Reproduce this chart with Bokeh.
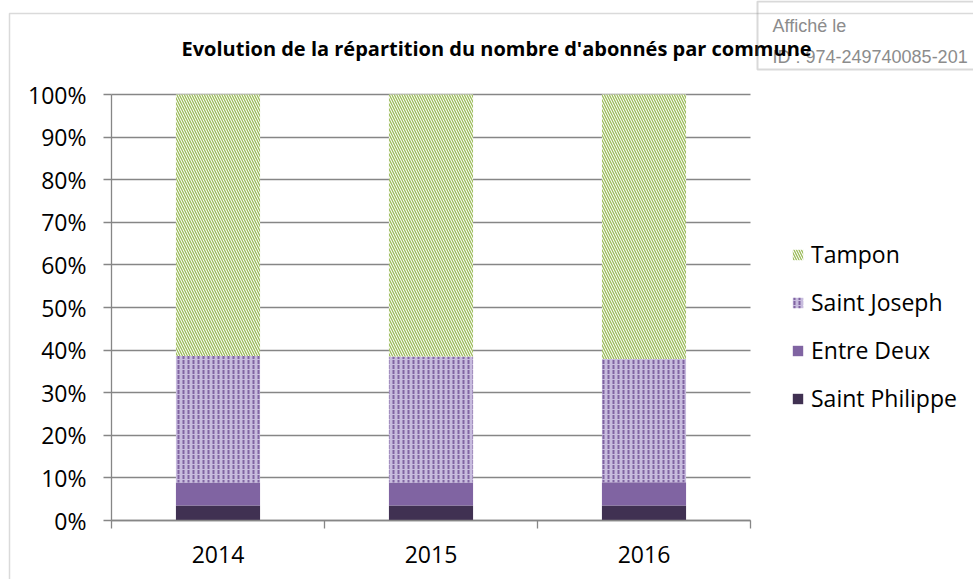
from bokeh.plotting import figure
from bokeh.models import (Range1d, FixedTicker, NumeralTickFormatter, Legend, LegendItem,
                          Label, BoxAnnotation, ColumnDataSource, Grid)
from bokeh.transform import stack
from bokeh.embed import file_html
from bokeh.resources import INLINE

# ---- data ----
years = ["2014", "2015", "2016"]
saint_philippe = [0.035, 0.035, 0.035]
entre_deux = [0.054, 0.054, 0.055]
saint_joseph = [0.297, 0.296, 0.289]
tampon = [0.614, 0.615, 0.621]
y_ticks = [0.0, 0.1, 0.2, 0.3, 0.4, 0.5, 0.6, 0.7, 0.8, 0.9, 1.0]
title_text = "Evolution de la répartition du nombre d'abonnés par commune"
stamp_line1 = "Affiché le"
stamp_line2 = "ID : 974-249740085-201"

FONT = "Open Sans"
W, H = 973, 579
# plot area in canvas pixels
PX0, PX1 = 111, 750    # x of category 0 edge .. last edge
PY1, PY0 = 94, 520     # y of 100% .. 0%

ncat = len(years)
sx = (PX1 - PX0) / ncat
sy = (PY0 - PY1) / 1.0
x_range = Range1d(-PX0 / sx, ncat + (W - PX1) / sx)
y_range = Range1d(-(H - PY0) / sy, 1 + PY1 / sy)

x_pos = [i + 0.5 for i in range(ncat)]
source = ColumnDataSource(dict(x=x_pos, sp=saint_philippe, ed=entre_deux,
                               sj=saint_joseph, ta=tampon))

p = figure(width=W, height=H, x_range=x_range, y_range=y_range, title=None,
           output_backend="svg", toolbar_location=None,
           min_border_left=0, min_border_right=0, min_border_top=0, min_border_bottom=0)
p.outline_line_color = None
p.background_fill_color = "white"
p.border_fill_color = "white"

bw = 0.395
r_sp = p.vbar(x="x", width=bw, bottom=stack(), top=stack("sp"), source=source,
              fill_color="#403152", line_color=None)
r_ed = p.vbar(x="x", width=bw, bottom=stack("sp"), top=stack("sp", "ed"), source=source,
              fill_color="#8064A2", line_color=None)
r_sj = p.vbar(x="x", width=bw, bottom=stack("sp", "ed"), top=stack("sp", "ed", "sj"),
              source=source, fill_color="#C8BCDE", line_color=None,
              hatch_pattern="vertical_dash", hatch_color="#8064A2", hatch_scale=5,
              hatch_weight=2)
r_ta = p.vbar(x="x", width=bw, bottom=stack("sp", "ed", "sj"),
              top=stack("sp", "ed", "sj", "ta"), source=source,
              fill_color="white", line_color=None,
              hatch_pattern="\\", hatch_color="#9BBB59", hatch_scale=5, hatch_weight=1.3)

# axes at fixed locations inside the full-canvas frame
ya = p.yaxis[0]
ya.fixed_location = 0
ya.bounds = (0, 1)
ya.ticker = FixedTicker(ticks=y_ticks)
ya.formatter = NumeralTickFormatter(format="0%")
ya.axis_line_color = "#868686"
ya.axis_line_width = 1.3
ya.major_tick_line_color = "#868686"
ya.major_tick_line_width = 1.3
ya.major_tick_out = 8
ya.major_tick_in = 0
ya.minor_tick_line_color = None
ya.major_label_text_font = FONT
ya.major_label_text_font_size = "23px"
ya.major_label_text_color = "#000000"
ya.major_label_standoff = 17

xa = p.xaxis[0]
xa.fixed_location = 0
xa.bounds = (0, ncat)
xa.ticker = FixedTicker(ticks=x_pos, minor_ticks=list(range(ncat + 1)))
xa.major_label_overrides = {x: y for x, y in zip(x_pos, years)}
xa.axis_line_color = "#868686"
xa.axis_line_width = 1.3
xa.major_tick_line_color = None
xa.major_tick_out = 0
xa.major_tick_in = 0
xa.minor_tick_line_color = "#868686"
xa.minor_tick_line_width = 1.3
xa.minor_tick_out = 8
xa.minor_tick_in = 0
xa.major_label_text_font = FONT
xa.major_label_text_font_size = "23px"
xa.major_label_text_color = "#000000"
xa.major_label_standoff = 17

# grid: horizontal lines only across the plot area
p.xgrid.grid_line_color = None
yg = p.ygrid[0]
yg.ticker = FixedTicker(ticks=y_ticks)
yg.bounds = (0, 1)
if "cross_bounds" in Grid.properties():
    yg.cross_bounds = (0, ncat)
    yg.grid_line_color = "#868686"
    yg.grid_line_width = 1.5
    yg.level = "underlay"
else:
    yg.grid_line_color = None
    ya.major_tick_in = PX1 - PX0
    ya.level = "underlay"

# legend
legend = Legend(items=[LegendItem(label="Tampon", renderers=[r_ta]),
                       LegendItem(label="Saint Joseph", renderers=[r_sj]),
                       LegendItem(label="Entre Deux", renderers=[r_ed]),
                       LegendItem(label="Saint Philippe", renderers=[r_sp])],
                location=(791, H - 414), orientation="vertical")
legend.padding = 0
legend.margin = 0
legend.border_line_color = None
legend.background_fill_alpha = 0
legend.glyph_width = 13
legend.glyph_height = 13
legend.label_height = 24
legend.spacing = 16
legend.label_standoff = 7
legend.label_text_font = FONT
legend.label_text_font_size = "23px"
legend.label_text_color = "#000000"
p.add_layout(legend, "center")

# chart border (left and top edges)
p.add_layout(BoxAnnotation(left=9, right=5000, top=H - 13, bottom=-500,
                           left_units="screen", right_units="screen",
                           top_units="screen", bottom_units="screen",
                           fill_alpha=0, line_color="#868686", line_width=1.5,
                           level="overlay"))
# stamp box
p.add_layout(BoxAnnotation(left=757, right=5000, top=H - 1, bottom=H - 69,
                           left_units="screen", right_units="screen",
                           top_units="screen", bottom_units="screen",
                           fill_alpha=0, line_color="#808080", line_width=2,
                           level="overlay"))
p.add_layout(Label(x=772, y=H - 25, x_units="screen", y_units="screen", text=stamp_line1,
                   text_font="Liberation Sans", text_font_size="18px",
                   text_color="#8c8c8c", text_baseline="alphabetic"))
p.add_layout(Label(x=772, y=H - 56, x_units="screen", y_units="screen", text=stamp_line2,
                   text_font="Liberation Sans", text_font_size="18px",
                   text_color="#8c8c8c", text_baseline="alphabetic"))
# title
p.add_layout(Label(x=181, y=H - 48, x_units="screen", y_units="screen", text=title_text,
                   text_font=FONT, text_font_size="20px", text_font_style="bold",
                   text_color="#000000", text_baseline="middle"))

open("out.html", "w").write(file_html(p, INLINE))
